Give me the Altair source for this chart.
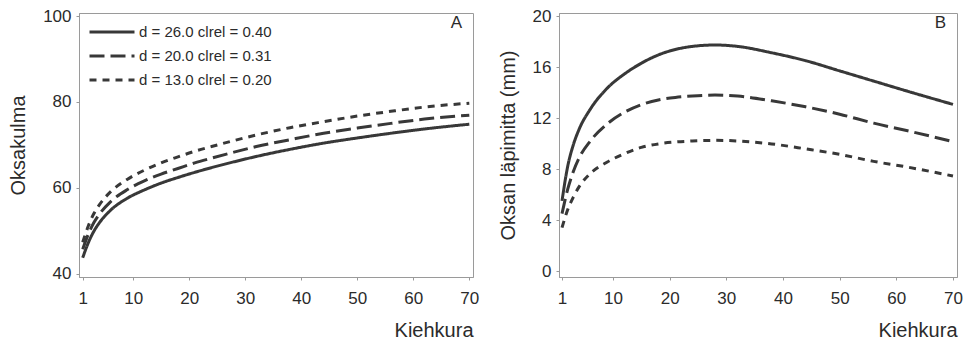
import altair as alt
import pandas as pd

# Whorl numbers (kiehkura) at which the model curves are tabulated
kiehkura = [1, 2, 3, 4, 6, 9, 12, 15, 18, 21, 24, 28, 32, 38, 44, 50, 56, 62, 70]

# Series: tree diameter d and relative crown length clrel
sarjat = ["d = 26.0  clrel = 0.40", "d = 20.0  clrel = 0.31", "d = 13.0  clrel = 0.20"]

# Branch angle (oksakulma, degrees)
kulma_d26 = [43.7, 47.2, 49.9, 51.9, 54.8, 57.6, 59.5, 61.1, 62.4, 63.6,
             64.7, 66.05, 67.3, 68.95, 70.4, 71.6, 72.7, 73.7, 74.8]
kulma_d20 = [45.7, 49.2, 51.9, 53.9, 56.8, 59.6, 61.6, 63.2, 64.5, 65.8,
             66.9, 68.3, 69.6, 71.2, 72.7, 73.9, 75.0, 76.0, 76.9]
kulma_d13 = [47.3, 51.1, 54.0, 56.1, 59.1, 62.0, 64.1, 65.8, 67.2, 68.5,
             69.6, 71.0, 72.3, 74.0, 75.4, 76.7, 77.8, 78.8, 79.7]

# Branch diameter (oksan läpimitta, mm)
lapimitta_d26 = [5.5, 8.2, 9.9, 11.1, 12.7, 14.35, 15.45, 16.3, 16.95, 17.38,
                 17.62, 17.73, 17.62, 17.12, 16.5, 15.7, 14.9, 14.1, 13.07]
lapimitta_d20 = [4.5, 6.4, 7.8, 8.85, 10.2, 11.55, 12.45, 13.05, 13.42, 13.62,
                 13.73, 13.8, 13.72, 13.35, 12.88, 12.3, 11.6, 11.0, 10.15]
lapimitta_d13 = [3.4, 4.8, 5.8, 6.6, 7.65, 8.55, 9.2, 9.7, 9.97, 10.12,
                 10.2, 10.25, 10.2, 9.97, 9.58, 9.15, 8.6, 8.15, 7.45]

x_ticks = [1, 10, 20, 30, 40, 50, 60, 70]
kulma_ticks = [40, 60, 80, 100]
lapimitta_ticks = [0, 4, 8, 12, 16, 20]
paneelit = ["A", "B"]

FONT = "Liberation Sans"
INK = "#2b2b2b"
LINE = "#383838"
FRAME = "#9a9a9a"


def long_table(series_values, field):
    rows = []
    for name, values in zip(sarjat, series_values):
        for k, v in zip(kiehkura, values):
            rows.append({"kiehkura": k, "sarja": name, field: v})
    return pd.DataFrame(rows)


kulma_df = long_table([kulma_d26, kulma_d20, kulma_d13], "kulma")
lapimitta_df = long_table([lapimitta_d26, lapimitta_d20, lapimitta_d13], "lapimitta")

dash_scale = alt.Scale(domain=sarjat, range=[[1, 0], [15, 6], [7, 6]])


def x_enc(domain):
    return alt.X(
        "kiehkura:Q",
        scale=alt.Scale(domain=domain, nice=False, zero=False),
        axis=alt.Axis(values=x_ticks, title="Kiehkura", titleAnchor="end",
                      titleAlign="right", titlePadding=14, labelPadding=10),
    )


W_A, W_B, H = 394, 398, 264

lines_a = alt.Chart(kulma_df).mark_line(color=LINE, strokeWidth=3, interpolate="monotone").encode(
    x=x_enc([0.34, 70.66]),
    y=alt.Y("kulma:Q", scale=alt.Scale(domain=[39.23, 100.7], nice=False, zero=False),
            axis=alt.Axis(values=kulma_ticks, title="Oksakulma")),
    strokeDash=alt.StrokeDash(
        "sarja:N", scale=dash_scale, sort=sarjat,
        legend=alt.Legend(title=None, orient="none", legendX=9, legendY=8,
                          symbolType="stroke", symbolSize=2025, symbolStrokeWidth=3,
                          symbolStrokeColor=LINE, labelFontSize=15, labelFont=FONT,
                          labelColor=INK, labelOffset=3, clipHeight=22, rowPadding=2),
    ),
)

label_a = alt.Chart(pd.DataFrame({"paneeli": [paneelit[0]]})).mark_text(
    font=FONT, fontSize=17, color=INK, align="right", baseline="middle"
).encode(text="paneeli:N", x=alt.value(W_A - 11), y=alt.value(10))

panel_a = alt.layer(lines_a, label_a).properties(width=W_A, height=H)

lines_b = alt.Chart(lapimitta_df).mark_line(color=LINE, strokeWidth=3, interpolate="monotone").encode(
    x=x_enc([0.47, 70.71]),
    y=alt.Y("lapimitta:Q", scale=alt.Scale(domain=[-0.47, 20.24], nice=False, zero=False),
            axis=alt.Axis(values=lapimitta_ticks, title="Oksan läpimitta (mm)")),
    strokeDash=alt.StrokeDash("sarja:N", scale=dash_scale, sort=sarjat, legend=None),
)

label_b = alt.Chart(pd.DataFrame({"paneeli": [paneelit[1]]})).mark_text(
    font=FONT, fontSize=17, color=INK, align="right", baseline="middle"
).encode(text="paneeli:N", x=alt.value(W_B - 11), y=alt.value(10))

panel_b = alt.layer(lines_b, label_b).properties(width=W_B, height=H)

chart = (
    alt.hconcat(panel_a, panel_b, spacing=17)
    .resolve_scale(strokeDash="independent", x="independent", y="independent")
    .resolve_legend(strokeDash="independent")
    .properties(padding={"left": 8, "top": 6, "right": 5, "bottom": 0}, background="white")
    .configure_view(stroke=FRAME, strokeWidth=1)
    .configure_axis(
        labelFont=FONT, labelFontSize=17, labelColor=INK,
        titleFont=FONT, titleFontSize=20, titleColor=INK, titleFontWeight="normal",
        domainColor=FRAME, tickColor=FRAME, tickSize=3, labelPadding=5,
        titlePadding=14, grid=False,
    )
)

chart.save("out.html", embed_options={"renderer": "svg", "actions": False})
